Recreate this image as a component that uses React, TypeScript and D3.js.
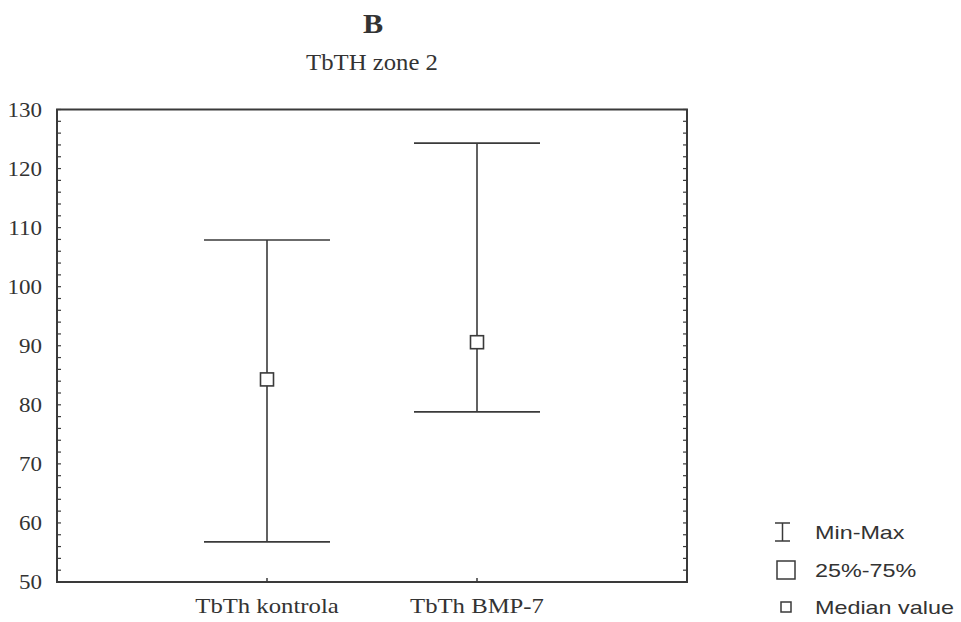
import React from "react";
import * as d3 from "d3";

const categories = ["TbTh kontrola", "TbTh BMP-7"];
const minValues = [56.8, 78.8];
const maxValues = [107.9, 124.3];
const medianValues = [84.3, 90.6];
const yTicks = [50, 60, 70, 80, 90, 100, 110, 120, 130];
const legendLabels = ["Min-Max", "25%-75%", "Median value"];

const W = 961;
const H = 622;
const M = { left: 57, right: 687, top: 109.5, bottom: 582 };

function SText(props: { x: number; y: number; sx: number; anchor?: string; family: string; size: number; weight?: string; children: React.ReactNode }) {
  return (
    <text
      transform={`translate(${props.x},${props.y}) scale(${props.sx},1)`}
      textAnchor={props.anchor || "start"}
      fontFamily={props.family}
      fontSize={props.size}
      fontWeight={props.weight || "normal"}
      fill="#333"
    >
      {props.children}
    </text>
  );
}

export default function App() {
  const x = d3.scalePoint<string>().domain(categories).range([M.left, M.right]).padding(1);
  const y = d3.scaleLinear().domain([50, 130]).range([M.bottom, M.top]);
  const minor = d3.range(50, 130.001, 2);
  const stroke = "#3a3a3a";
  const serif = "'Liberation Serif', 'Times New Roman', serif";
  const sans = "'Liberation Sans', Arial, sans-serif";
  const capHalf = 63;
  const sq = 13;
  const legendY = [532, 570, 607];

  return (
    <svg width={W} height={H} style={{ position: "absolute", left: 0, top: 0, background: "#fff" }}>
      <rect x={0} y={0} width={W} height={H} fill="#fff" />
      <SText x={373} y={33} sx={1.12} anchor="middle" family={serif} size={27} weight="bold">B</SText>
      <SText x={372} y={70} sx={1.03} anchor="middle" family={serif} size={24}>TbTH zone 2</SText>

      {/* frame */}
      <rect x={M.left} y={M.top} width={M.right - M.left} height={M.bottom - M.top} fill="none" stroke={stroke} strokeWidth={2} />

      {/* minor ticks */}
      {minor.map((v) => (
        <g key={v}>
          <line x1={M.left} x2={M.left + 4} y1={y(v)} y2={y(v)} stroke={stroke} strokeWidth={1.2} />
          <line x1={M.right} x2={M.right - 4} y1={y(v)} y2={y(v)} stroke={stroke} strokeWidth={1.2} />
        </g>
      ))}
      {categories.map((c) => (
        <line key={c} x1={x(c)} x2={x(c)} y1={M.bottom} y2={M.bottom - 4} stroke={stroke} strokeWidth={1.5} />
      ))}

      {/* y labels */}
      {yTicks.map((v) => (
        <SText key={v} x={42} y={y(v) + 7} sx={1.15} anchor="end" family={serif} size={20}>{v}</SText>
      ))}
      {/* x labels */}
      {categories.map((c) => (
        <SText key={c} x={x(c) as number} y={613} sx={1.15} anchor="middle" family={serif} size={21.5}>{c}</SText>
      ))}

      {/* whiskers */}
      {categories.map((c, i) => {
        const cx = x(c) as number;
        return (
          <g key={c} stroke={stroke} strokeWidth={1.6} fill="none">
            <line x1={cx} x2={cx} y1={y(minValues[i])} y2={y(maxValues[i])} />
            <line x1={cx - capHalf} x2={cx + capHalf} y1={y(minValues[i])} y2={y(minValues[i])} />
            <line x1={cx - capHalf} x2={cx + capHalf} y1={y(maxValues[i])} y2={y(maxValues[i])} />
            <rect x={cx - sq / 2} y={y(medianValues[i]) - sq / 2} width={sq} height={sq} fill="#fff" />
          </g>
        );
      })}

      {/* legend */}
      <g stroke={stroke} strokeWidth={1.5} fill="none">
        <line x1={782.5} x2={782.5} y1={legendY[0] - 9} y2={legendY[0] + 9} />
        <line x1={775} x2={790} y1={legendY[0] - 9} y2={legendY[0] - 9} />
        <line x1={775} x2={790} y1={legendY[0] + 9} y2={legendY[0] + 9} />
        <rect x={777} y={legendY[1] - 9} width={18} height={18} fill="#fff" />
        <rect x={781} y={legendY[2] - 5} width={10} height={10} fill="#fff" />
      </g>
      {legendLabels.map((l, i) => (
        <SText key={l} x={815} y={legendY[i] + 7} sx={1.23} family={sans} size={19}>{l}</SText>
      ))}
    </svg>
  );
}
